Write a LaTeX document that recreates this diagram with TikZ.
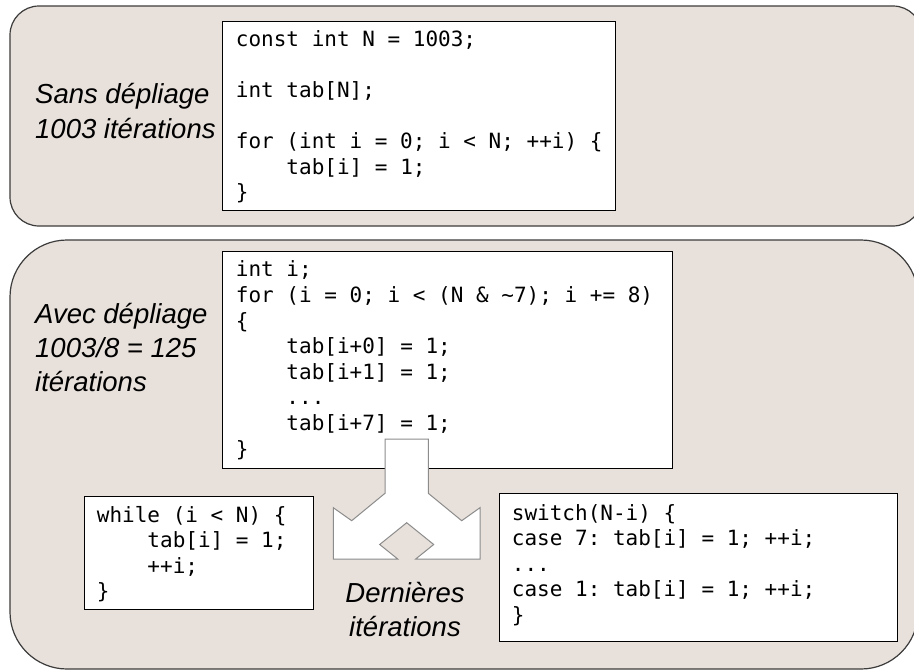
\documentclass[tikz,border=0pt]{standalone}
\usepackage{fontspec}
\newfontfamily\codefam{DejaVu Sans Mono}
\newfontfamily\labfam{Liberation Sans}
\definecolor{panelfill}{HTML}{E8E0DA}
\definecolor{panelline}{HTML}{3C3C3C}
\definecolor{arrowline}{HTML}{8C8C8C}
\newcommand\ind{\phantom{xxxx}}
\newcommand\codesize{\codefam\frenchspacing\fontsize{21}{25.6}\selectfont}
\newcommand\labsize{\labfam\itshape\fontsize{27.5}{35}\selectfont}
\begin{document}
\begin{tikzpicture}[x=1pt,y=-1pt,
  panel/.style={draw=panelline, fill=panelfill, line width=1.2pt},
  codebox/.style={draw=black, fill=white, line width=1pt, anchor=north west, inner sep=0pt},
  code/.style={anchor=north west, inner sep=0pt, align=left, font=\codesize},
  lab/.style={anchor=base west, inner sep=0pt, font=\labsize},
  splitarrow/.style={draw=arrowline, fill=white, line width=1pt, line join=miter}]
\useasboundingbox (0,0) rectangle (914,670);
\fill[white] (0,0) rectangle (914,670);
\begin{scope}
  \clip (0,0) rectangle (914,670);
  \draw[panel, rounded corners=29pt] (10,6) rectangle (922,226);
  \draw[panel, rounded corners=57pt] (10,240) rectangle (918,669);
\end{scope}
% code boxes
\node[codebox, minimum width=393pt, minimum height=189pt] (c1) at (222,21) {};
\node[codebox, minimum width=450pt, minimum height=217pt] (c2) at (222,250.7) {};
\node[codebox, minimum width=229pt, minimum height=113pt] (c3) at (84,496) {};
\node[codebox, minimum width=398pt, minimum height=148pt] (c4) at (499,492.7) {};
% code texts
\node[code, font=\codefam\frenchspacing\fontsize{21}{25.5}\selectfont] (t1) at (235.7,28.8)
  {\strut const int N = 1003;\\ \strut\\ int tab[N];\\ \strut\\ for (int i = 0; i < N; ++i) \{\\ \ind tab[i] = 1;\\ \}};
\node[code] (t2) at (235.7,258.8)
  {\strut int i;\\ for (i = 0; i < (N \& \textasciitilde 7); i += 8)\\ \{\\ \ind tab[i+0] = 1;\\ \ind tab[i+1] = 1;\\ \ind ...\\ \ind tab[i+7] = 1;\\ \}};
\node[code] (t3) at (96.7,504)
  {\strut while (i < N) \{\\ \ind tab[i] = 1;\\ \ind ++i;\\ \}};
\node[code] (t4) at (511.7,502)
  {\strut switch(N-i) \{\\ case 7: tab[i] = 1; ++i;\\ ...\\ case 1: tab[i] = 1; ++i;\\ \}};
% labels
\node[lab] (l1a) at (35,103) {Sans dépliage};
\node[lab] (l1b) at (35,138) {1003 itérations};
\node[lab] (l2a) at (35,323) {Avec dépliage};
\node[lab] (l2b) at (35,357) {1003/8 = 125};
\node[lab] (l2c) at (35,391) {itérations};
\node[lab, anchor=base] (l3a) at (405,602) {Dernières};
\node[lab, anchor=base] (l3b) at (405,636) {itérations};
% split arrow
\draw[splitarrow] (385,439) -- (428.3,439) -- (428.3,493.3) -- (461.7,520.7) -- (480,507.7)
  -- (480,559) -- (415.7,559) -- (433.7,544.5) -- (406.7,522.7) -- (379.7,544.5)
  -- (397.7,559) -- (333.3,559) -- (333.3,507.7) -- (351.7,520.7) -- (385,493.3) -- cycle;
\end{tikzpicture}
\end{document}
